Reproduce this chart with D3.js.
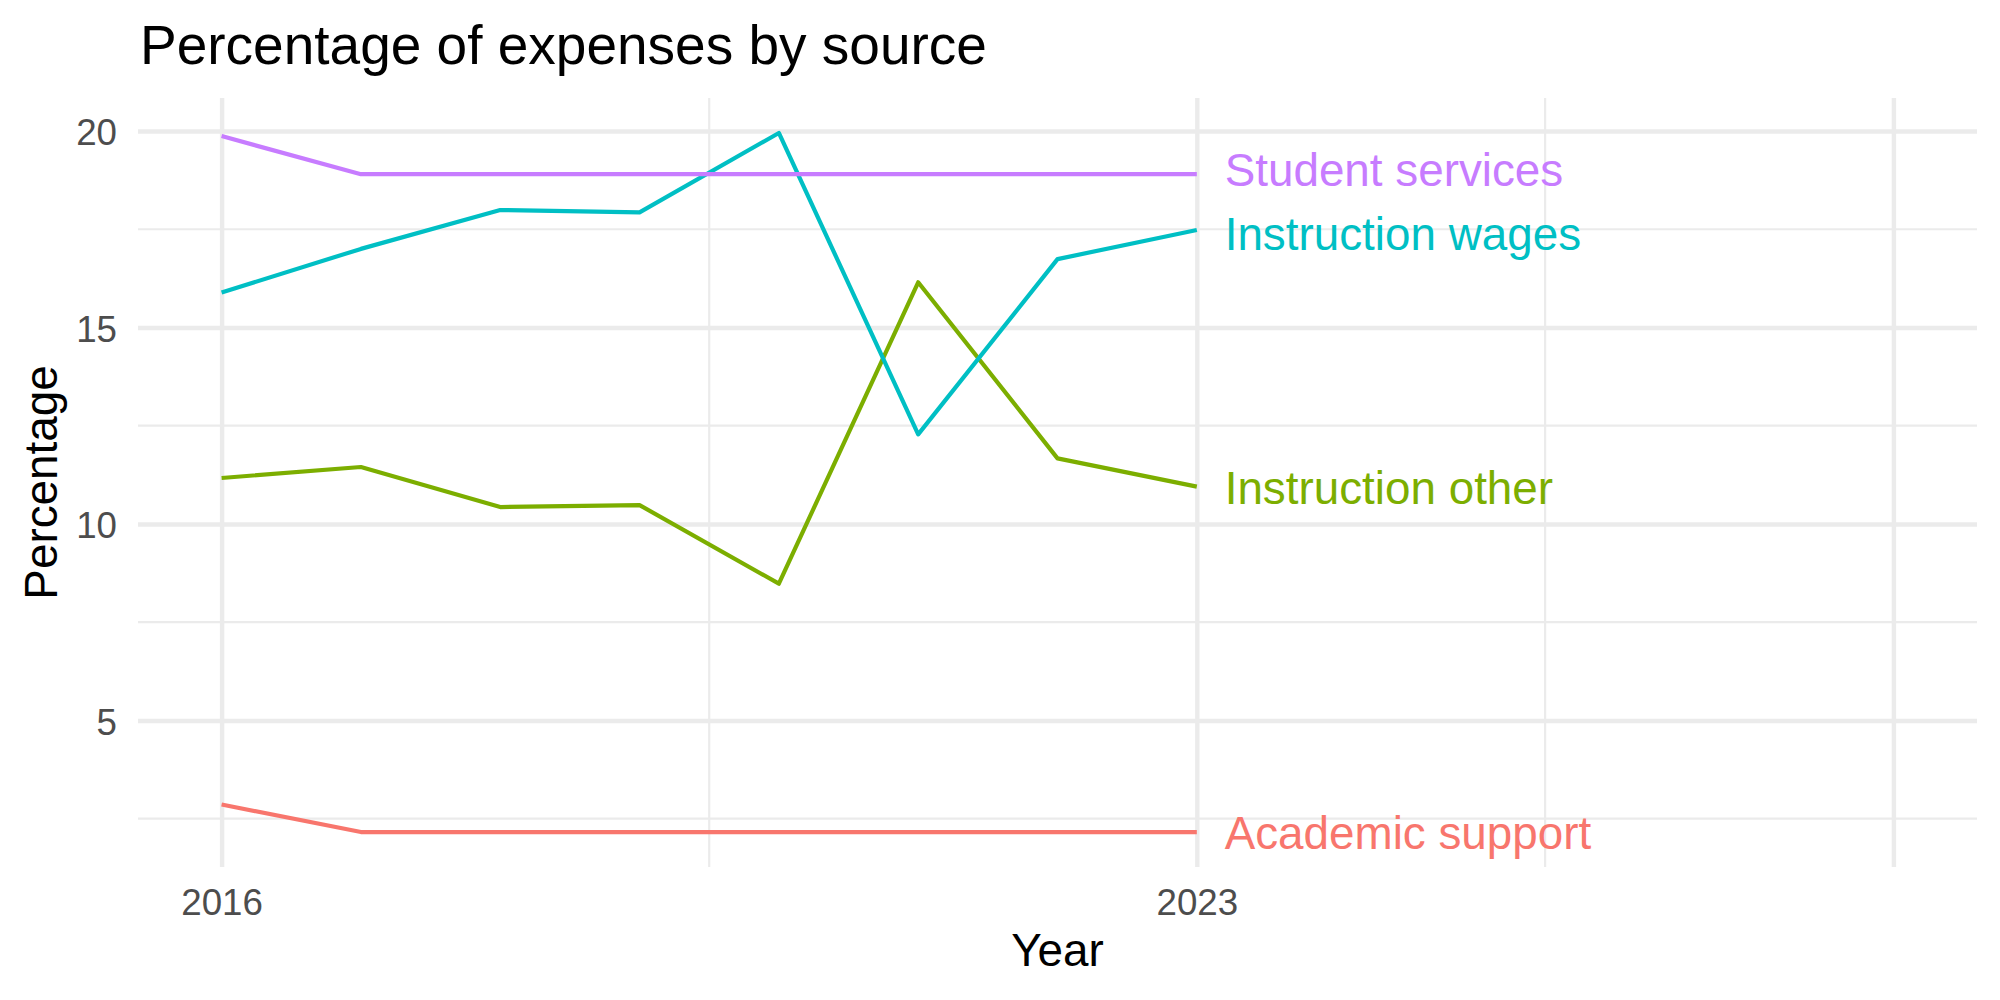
<!DOCTYPE html>
<html>
<head>
<meta charset="utf-8">
<script src="https://cdn.jsdelivr.net/npm/d3@7"></script>
<style>
  html, body { margin: 0; padding: 0; background: #fff; }
  svg { display: block; font-family: "Liberation Sans", Arial, Helvetica, sans-serif; }
</style>
</head>
<body>
<svg width="2000" height="1000"></svg>
<script>
// ---- Data
const years = [2016, 2017, 2018, 2019, 2020, 2021, 2022, 2023];
const sources = ["Academic support", "Instruction other", "Instruction wages", "Student services"];
const academicSupport  = [2.86, 2.16, 2.16, 2.16, 2.16, 2.16, 2.16, 2.16];
const instructionOther = [11.17, 11.45, 10.43, 10.48, 8.48, 16.15, 11.67, 10.95];
const instructionWages = [15.89, 17.0, 17.99, 17.93, 19.95, 12.28, 16.74, 17.48];
const studentServices  = [19.87, 18.90, 18.90, 18.90, 18.90, 18.90, 18.90, 18.90];
const seriesValues = [academicSupport, instructionOther, instructionWages, studentServices];
// label anchors (values after the labels were pushed apart)
const labelValues = [2.16, 10.93, 17.40, 19.01];

const xLimits = [2016, 2028];
const xMajor = [2016, 2023, 2028];
const xMajorLabels = ["2016", "2023", ""];
const xMinor = [2019.5, 2025.5];
const yMajor = [5, 10, 15, 20];
const yMinor = [2.5, 7.5, 12.5, 17.5];

const colors = ["#F8766D", "#7CAE00", "#00BFC4", "#C77CFF"];

// ---- Layout
const svg = d3.select('svg');
const margens = { left: 138, right: 23, top: 98, bottom: 133 };
const W = 2000, H = 1000;
const innerW = W - margens.left - margens.right;
const innerH = H - margens.top - margens.bottom;
const fontFam = '"Liberation Sans", Arial, Helvetica, sans-serif';

svg.append('rect').attr('width', W).attr('height', H).attr('fill', '#fff');

// ---- Scales (ggplot-like 5% expansion)
const expand = (lo, hi) => { const d = (hi - lo) * 0.05; return [lo - d, hi + d]; };
const allVals = seriesValues.flat();
const mapX = d3.scaleLinear().domain(expand(xLimits[0], xLimits[1])).range([margens.left, margens.left + innerW]);
const mapY = d3.scaleLinear().domain(expand(d3.min(allVals), d3.max(allVals))).range([margens.top + innerH, margens.top]);

const grid = svg.append('g').attr('id', 'grid');
const gridColor = '#EBEBEB';

// minor grid
grid.selectAll('.yminor').data(yMinor).join('line')
  .attr('x1', margens.left).attr('x2', margens.left + innerW)
  .attr('y1', d => mapY(d)).attr('y2', d => mapY(d))
  .attr('stroke', gridColor).attr('stroke-width', 2.2);
grid.selectAll('.xminor').data(xMinor).join('line')
  .attr('class', 'xminor')
  .attr('y1', margens.top).attr('y2', margens.top + innerH)
  .attr('x1', d => mapX(d)).attr('x2', d => mapX(d))
  .attr('stroke', gridColor).attr('stroke-width', 2.2);

// major grid via axes
const yAxis = d3.axisLeft(mapY).tickValues(yMajor).tickSize(-innerW).tickPadding(21).tickFormat(d3.format('d'));
const gy = svg.append('g').attr('transform', `translate(${margens.left},0)`).call(yAxis);
gy.select('.domain').remove();
gy.selectAll('.tick line').attr('stroke', gridColor).attr('stroke-width', 4.4);
gy.selectAll('.tick text').attr('fill', '#4D4D4D').attr('font-size', 36.7).attr('dy', '0.38em')
  .attr('font-family', fontFam);

const xAxis = d3.axisBottom(mapX).tickValues(xMajor).tickSize(-innerH).tickPadding(0)
  .tickFormat((d, i) => xMajorLabels[i]);
const gx = svg.append('g').attr('transform', `translate(0,${margens.top + innerH})`).call(xAxis);
gx.select('.domain').remove();
gx.selectAll('.tick line').attr('stroke', gridColor).attr('stroke-width', 4.4);
gx.selectAll('.tick text').attr('fill', '#4D4D4D').attr('font-size', 36.7)
  .attr('y', 48).attr('dy', 0)
  .attr('font-family', fontFam);

// ---- Lines
const line = d3.line().x((d, i) => mapX(years[i])).y(d => mapY(d));
svg.append('g').selectAll('path').data(seriesValues).join('path')
  .attr('d', d => line(d))
  .attr('fill', 'none')
  .attr('stroke', (d, i) => colors[i])
  .attr('stroke-width', 4.2)
  .attr('stroke-linejoin', 'round');

// ---- End labels
svg.append('g').selectAll('text').data(labelValues).join('text')
  .attr('x', mapX(years[years.length - 1] + 0.2))
  .attr('y', d => mapY(d))
  .attr('dy', '0.36em')
  .attr('font-size', 45.8)
  .attr('fill', (d, i) => colors[i])
  .text((d, i) => sources[i]);

// ---- Titles
svg.append('text').attr('x', 140).attr('y', 63.5).attr('font-size', 55).attr('fill', '#000')
  .text('Percentage of expenses by source');
svg.append('text').attr('x', margens.left + innerW / 2).attr('y', 966).attr('text-anchor', 'middle')
  .attr('font-size', 45.8).attr('fill', '#000').text('Year');
svg.append('text').attr('transform', `translate(57,${margens.top + innerH / 2}) rotate(-90)`)
  .attr('text-anchor', 'middle').attr('font-size', 45.8).attr('fill', '#000').text('Percentage');
</script>
</body>
</html>
